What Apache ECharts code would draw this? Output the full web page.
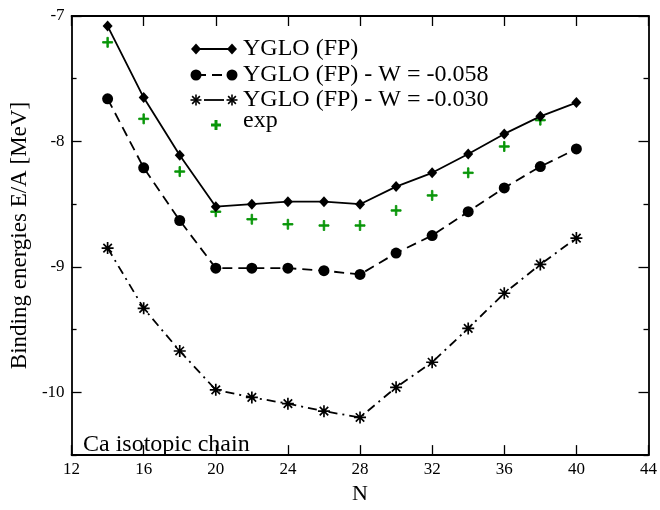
<!DOCTYPE html>
<html>
<head>
<meta charset="utf-8">
<script src="https://cdn.jsdelivr.net/npm/echarts@6/dist/echarts.min.js"></script>
<style>html,body{margin:0;padding:0;background:#fff}#c{width:660px;height:510px}</style>
</head>
<body>
<div id="c"></div>
<script>
// ---- data ----
var N = [14, 16, 18, 20, 22, 24, 26, 28, 30, 32, 34, 36, 38, 40];
var yglo = [-7.08, -7.65, -8.11, -8.52, -8.50, -8.48, -8.48, -8.50, -8.36, -8.25, -8.10, -7.94, -7.80, -7.69];
var yglo058 = [-7.66, -8.21, -8.63, -9.01, -9.01, -9.01, -9.03, -9.06, -8.89, -8.75, -8.56, -8.37, -8.20, -8.06];
var yglo030 = [-8.85, -9.33, -9.67, -9.98, -10.04, -10.09, -10.15, -10.20, -9.96, -9.76, -9.49, -9.21, -8.98, -8.77];
var expN = [14, 16, 18, 20, 22, 24, 26, 28, 30, 32, 34, 36, 38];
var expVals = [-7.21, -7.82, -8.24, -8.56, -8.62, -8.66, -8.67, -8.67, -8.55, -8.43, -8.25, -8.04, -7.83];
var seriesNames = ['YGLO (FP)', 'YGLO (FP) - W = -0.058', 'YGLO (FP) - W = -0.030', 'exp'];
var yMajor = [-10, -9, -8, -7];
var yMinor = [-10.5, -9.5, -8.5, -7.5];

// ---- styling helpers ----
var FONT = 'Liberation Serif';
var GREEN = '#0a960a';
function pairs(xs, ys) { return xs.map(function (x, i) { return [x, ys[i]]; }); }
function asteriskPath(t) {
  var s = '';
  [0, 45, 90, 135].forEach(function (a) {
    var r = a * Math.PI / 180, dx = Math.cos(r), dy = Math.sin(r), nx = -dy * t, ny = dx * t;
    var p = [[-dx - nx, -dy - ny], [dx - nx, dy - ny], [dx + nx, dy + ny], [-dx + nx, -dy + ny]];
    s += 'M' + p.map(function (q) { return q[0].toFixed(3) + ',' + q[1].toFixed(3); }).join('L') + 'Z';
  });
  return 'path://' + s;
}
var plusPath = 'path://M-1,-0.15L1,-0.15L1,0.15L-1,0.15ZM-0.15,-1L0.15,-1L0.15,1L-0.15,1Z';
var starPath = asteriskPath(0.14);

var chart = echarts.init(document.getElementById('c'));

// legend graphics
var LX1 = 196, LX2 = 232, LT = 243;
var rows = [49, 75, 100, 125];
function diamond(x, y) { return { type: 'polygon', shape: { points: [[x, y - 5.5], [x + 5, y], [x, y + 5.5], [x - 5, y]] }, style: { fill: '#000' } }; }
function dot(x, y) { return { type: 'circle', shape: { cx: x, cy: y, r: 5.5 }, style: { fill: '#000' } }; }
function star(x, y) {
  var g = [];
  [0, 45, 90, 135].forEach(function (a) {
    var r = a * Math.PI / 180, dx = Math.cos(r) * 5.5, dy = Math.sin(r) * 5.5;
    g.push({ type: 'line', shape: { x1: x - dx, y1: y - dy, x2: x + dx, y2: y + dy }, style: { stroke: '#000', lineWidth: 1.6 } });
  });
  return g;
}
function legendText(txt, y) { return { type: 'text', x: LT, y: y, style: { text: txt, font: '24px "' + FONT + '"', fill: '#000', verticalAlign: 'middle' } }; }
var graphics = [];
graphics.push({ type: 'line', shape: { x1: LX1, y1: rows[0], x2: LX2, y2: rows[0] }, style: { stroke: '#000', lineWidth: 1.8 } });
graphics.push(diamond(LX1, rows[0]), diamond(LX2, rows[0]), legendText(seriesNames[0], rows[0]));
graphics.push({ type: 'line', shape: { x1: LX1, y1: rows[1], x2: LX2, y2: rows[1] }, style: { stroke: '#000', lineWidth: 1.8, lineDash: [10, 6] } });
graphics.push(dot(LX1, rows[1]), dot(LX2, rows[1]), legendText(seriesNames[1], rows[1]));
graphics.push({ type: 'line', shape: { x1: LX1 + 8, y1: rows[2], x2: LX2 - 8, y2: rows[2] }, style: { stroke: '#000', lineWidth: 1.8 } });
graphics = graphics.concat(star(LX1, rows[2]), star(LX2, rows[2]));
graphics.push(legendText(seriesNames[2], rows[2]));
graphics.push({ type: 'line', shape: { x1: 211, y1: rows[3], x2: 221, y2: rows[3] }, style: { stroke: GREEN, lineWidth: 3 } });
graphics.push({ type: 'line', shape: { x1: 216, y1: rows[3] - 5, x2: 216, y2: rows[3] + 5 }, style: { stroke: GREEN, lineWidth: 3 } });
graphics.push(legendText(seriesNames[3], rows[3] - 4));
graphics.push({ type: 'text', x: 83, y: 445, style: { text: 'Ca isotopic chain', font: '24px "' + FONT + '"', fill: '#000', verticalAlign: 'middle' } });

var axisLineStyle = { color: '#000', width: 1.8 };
var tickLine = { color: '#000', width: 1.3 };

var option = {
  animation: false,
  backgroundColor: '#fff',
  grid: { left: 68, right: 8, top: 16, bottom: 39 },
  xAxis: [
    { type: 'value', min: 12, max: 44, interval: 4, position: 'bottom',
      name: 'N', nameLocation: 'middle', nameGap: 27,
      nameTextStyle: { fontFamily: FONT, fontSize: 22, color: '#000' },
      axisLine: { show: true, lineStyle: axisLineStyle },
      axisTick: { show: true, inside: true, length: 10, lineStyle: tickLine },
      axisLabel: { fontFamily: FONT, fontSize: 17, color: '#000', margin: 6, showMinLabel: true, showMaxLabel: true },
      splitLine: { show: false } },
    { type: 'value', min: 12, max: 44, interval: 4, position: 'top',
      axisLine: { show: true, lineStyle: axisLineStyle },
      axisTick: { show: true, inside: true, length: 10, lineStyle: tickLine },
      axisLabel: { show: false }, splitLine: { show: false } }
  ],
  yAxis: [
    { type: 'value', min: -10.5, max: -7, position: 'left',
      name: 'Binding energies E/A [MeV]', nameLocation: 'middle', nameGap: 34,
      nameTextStyle: { fontFamily: FONT, fontSize: 23, color: '#000' },
      axisLine: { show: true, lineStyle: axisLineStyle },
      axisTick: { show: true, inside: true, length: 10, customValues: yMajor, lineStyle: tickLine },
      axisLabel: { fontFamily: FONT, fontSize: 17, color: '#000', margin: 7, customValues: yMajor },
      splitLine: { show: false } },
    { type: 'value', min: -10.5, max: -7, position: 'left',
      axisLine: { show: false },
      axisTick: { show: true, inside: true, length: 5, customValues: yMinor, lineStyle: tickLine },
      axisLabel: { show: false }, splitLine: { show: false } },
    { type: 'value', min: -10.5, max: -7, position: 'right',
      axisLine: { show: true, lineStyle: axisLineStyle },
      axisTick: { show: true, inside: true, length: 10, customValues: yMajor, lineStyle: tickLine },
      axisLabel: { show: false }, splitLine: { show: false } },
    { type: 'value', min: -10.5, max: -7, position: 'right',
      axisLine: { show: false },
      axisTick: { show: true, inside: true, length: 5, customValues: yMinor, lineStyle: tickLine },
      axisLabel: { show: false }, splitLine: { show: false } }
  ],
  series: [
    { name: seriesNames[0], type: 'line', data: pairs(N, yglo), symbol: 'diamond', symbolSize: [10, 11],
      itemStyle: { color: '#000' }, lineStyle: { color: '#000', width: 1.8 } },
    { name: seriesNames[1], type: 'line', data: pairs(N, yglo058), symbol: 'circle', symbolSize: 11,
      itemStyle: { color: '#000' }, lineStyle: { color: '#000', width: 1.8, type: [10, 6] } },
    { name: seriesNames[2], type: 'line', data: pairs(N, yglo030), symbol: starPath, symbolSize: 12,
      itemStyle: { color: '#000' }, lineStyle: { color: '#000', width: 1.8, type: [9, 5, 2, 5] } },
    { name: seriesNames[3], type: 'scatter', data: pairs(expN, expVals), symbol: plusPath, symbolSize: 10,
      itemStyle: { color: GREEN, opacity: 1, borderColor: GREEN, borderWidth: 0.9 } }
  ],
  graphic: graphics
};
chart.setOption(option);
</script>
</body>
</html>
